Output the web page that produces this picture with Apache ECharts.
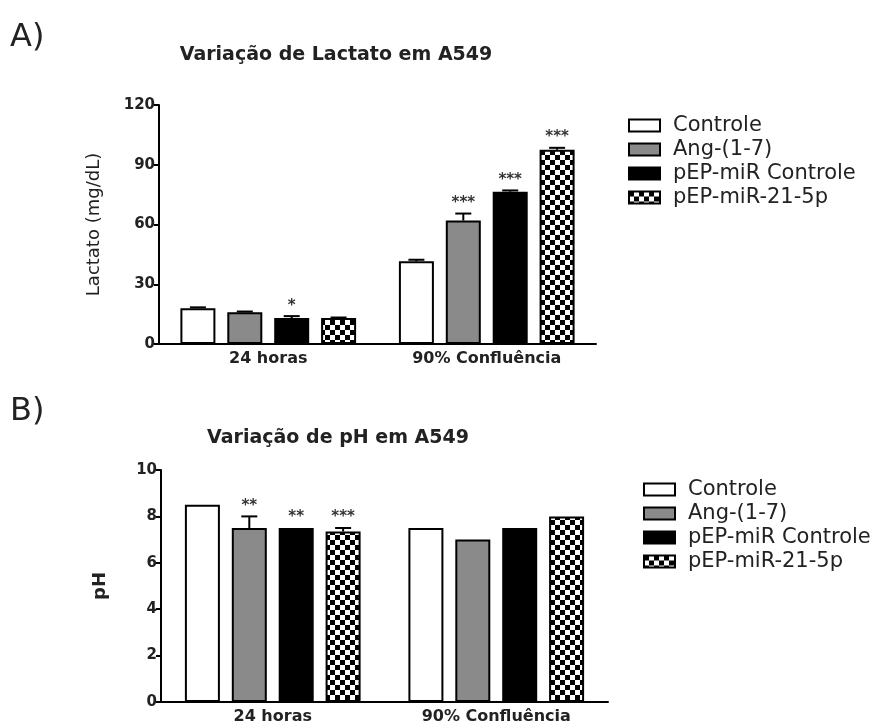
<!DOCTYPE html>
<html>
<head>
<meta charset="utf-8">
<script src="https://cdn.jsdelivr.net/npm/echarts@6/dist/echarts.min.js"></script>
<style>html,body{margin:0;padding:0;background:#fff;}#chart{width:887px;height:727px;}</style>
</head>
<body>
<div id="chart"></div>
<script>
// ---- data ----
const categories = ['24 horas', '90% Confluência'];
const seriesNames = ['Controle', 'Ang-(1-7)', 'pEP-miR Controle', 'pEP-miR-21-5p'];

// A) Lactato (mg/dL)
const lacControle = [18, 41.5];
const lacAng = [16, 62];
const lacPepCtrl = [13, 76.5];
const lacPep21 = [13, 97.5];
const lacControleErr = [0.4, 0.8];
const lacAngErr = [0.3, 3.5];
const lacPepCtrlErr = [1, 0.6];
const lacPep21Err = [0.3, 1];
const lacControleStars = ['', ''];
const lacAngStars = ['', '***'];
const lacPepCtrlStars = ['*', '***'];
const lacPep21Stars = ['', '***'];
const lacTicks = [0, 30, 60, 90, 120];

// B) pH
const phControle = [8.5, 7.5];
const phAng = [7.5, 7.0];
const phPepCtrl = [7.5, 7.5];
const phPep21 = [7.35, 8.0];
const phControleErr = [0, 0];
const phAngErr = [0.5, 0];
const phPepCtrlErr = [0, 0];
const phPep21Err = [0.15, 0];
const phControleStars = ['', ''];
const phAngStars = ['**', ''];
const phPepCtrlStars = ['**', ''];
const phPep21Stars = ['***', ''];
const phTicks = [0, 2, 4, 6, 8, 10];

// ---- styles ----
const FONT = 'DejaVu Sans, Arial, sans-serif';
function makeChecker() {
  const c = document.createElement('canvas');
  c.width = 10; c.height = 10;
  const g = c.getContext('2d');
  g.fillStyle = '#fff'; g.fillRect(0, 0, 10, 10);
  g.fillStyle = '#000'; g.fillRect(0, 0, 5, 5); g.fillRect(5, 5, 5, 5);
  return c;
}
const checker = { image: makeChecker(), repeat: 'repeat' };
const fills = ['#ffffff', '#8a8a8a', '#000000', checker];
const BAR_W = 35, BAR_GAP = 0.34;
const STEP = BAR_W * (1 + BAR_GAP);

function barSeries(name, data, i, gi) {
  return {
    type: 'bar', name: name, data: data, xAxisIndex: gi, yAxisIndex: gi,
    barWidth: BAR_W, barGap: (BAR_GAP * 100) + '%',
    itemStyle: { color: fills[i], borderColor: '#000', borderWidth: 2 },
    emphasis: { disabled: true }, z: 2
  };
}
function errSeries(vals, errs, stars, i, gi) {
  return {
    type: 'custom', name: 'err' + gi + '_' + i, xAxisIndex: gi, yAxisIndex: gi, z: 5,
    silent: true,
    data: vals.map((v, k) => [k, v, errs[k]]),
    renderItem: function (params, api) {
      const ci = api.value(0), v = api.value(1), e = api.value(2);
      const p0 = api.coord([ci, v]);
      const p1 = api.coord([ci, v + e]);
      const x = p0[0] + (i - 1.5) * STEP;
      const children = [];
      if (e > 0) {
        children.push({ type: 'line', shape: { x1: x, y1: p0[1], x2: x, y2: p1[1] }, style: { stroke: '#000', lineWidth: 2 } });
        children.push({ type: 'line', shape: { x1: x - 8, y1: p1[1], x2: x + 8, y2: p1[1] }, style: { stroke: '#000', lineWidth: 2 } });
      }
      const s = stars[params.dataIndex];
      if (s) {
        children.push({ type: 'text', style: { text: s, x: x, y: p1[1] - 3, textAlign: 'center', textVerticalAlign: 'bottom', font: 'bold 15px ' + FONT, fill: '#333' } });
      }
      return { type: 'group', children: children };
    }
  };
}

const lacVals = [lacControle, lacAng, lacPepCtrl, lacPep21];
const lacErrs = [lacControleErr, lacAngErr, lacPepCtrlErr, lacPep21Err];
const lacStars = [lacControleStars, lacAngStars, lacPepCtrlStars, lacPep21Stars];
const phVals = [phControle, phAng, phPepCtrl, phPep21];
const phErrs = [phControleErr, phAngErr, phPepCtrlErr, phPep21Err];
const phStars = [phControleStars, phAngStars, phPepCtrlStars, phPep21Stars];

const series = [];
seriesNames.forEach((n, i) => series.push(barSeries(n, lacVals[i], i, 0)));
seriesNames.forEach((n, i) => series.push(barSeries(n, phVals[i], i, 1)));
seriesNames.forEach((n, i) => series.push(errSeries(lacVals[i], lacErrs[i], lacStars[i], i, 0)));
seriesNames.forEach((n, i) => series.push(errSeries(phVals[i], phErrs[i], phStars[i], i, 1)));

function xAxis(gi) {
  return {
    type: 'category', gridIndex: gi, data: categories,
    axisLine: { lineStyle: { color: '#000', width: 2 } },
    axisTick: { alignWithLabel: true, length: 5, lineStyle: { color: '#000', width: 2 } },
    axisLabel: { color: '#222', fontFamily: FONT, fontWeight: 'bold', fontSize: 16, margin: 7 }
  };
}
function yAxis(gi, ticks, name, nameGap, nameBold) {
  return {
    type: 'value', gridIndex: gi, min: ticks[0], max: ticks[ticks.length - 1],
    interval: ticks[1] - ticks[0],
    name: name, nameLocation: 'middle', nameGap: nameGap,
    nameTextStyle: { color: '#222', fontFamily: FONT, fontSize: 18, fontWeight: nameBold ? 'bold' : 'normal' },
    axisLine: { show: true, lineStyle: { color: '#000', width: 2 } },
    axisTick: { show: true, length: 5, lineStyle: { color: '#000', width: 2 } },
    splitLine: { show: false },
    axisLabel: { color: '#222', fontFamily: FONT, fontWeight: 'bold', fontSize: 15, margin: 4,
      formatter: v => ticks.indexOf(v) >= 0 ? String(v) : '' }
  };
}
function legend(left, top) {
  return {
    data: seriesNames, orient: 'vertical', left: left, top: top,
    itemWidth: 31, itemHeight: 12, itemGap: 3, icon: 'rect', selectedMode: false,
    textStyle: { color: '#222', fontFamily: FONT, fontSize: 21, lineHeight: 21, padding: [0, 0, 0, 8] }
  };
}

const option = {
  animation: false,
  backgroundColor: '#fff',
  grid: [
    { left: 159, top: 105, width: 437, height: 239 },
    { left: 161, top: 470, width: 447, height: 232 }
  ],
  xAxis: [xAxis(0), xAxis(1)],
  yAxis: [yAxis(0, lacTicks, 'Lactato (mg/dL)', 56, false), yAxis(1, phTicks, 'pH', 52, true)],
  legend: [legend(623, 110), legend(638, 474)],
  graphic: [
    { type: 'text', left: 10, top: 22, style: { text: 'A)', font: '32px ' + FONT, fill: '#222' } },
    { type: 'text', left: 10, top: 396, style: { text: 'B)', font: '32px ' + FONT, fill: '#222' } },
    { type: 'text', x: 336, y: 55, style: { text: 'Variação de Lactato em A549', textAlign: 'center', textVerticalAlign: 'middle', font: 'bold 19px ' + FONT, fill: '#222' } },
    { type: 'text', x: 338, y: 438, style: { text: 'Variação de pH em A549', textAlign: 'center', textVerticalAlign: 'middle', font: 'bold 19px ' + FONT, fill: '#222' } }
  ],
  series: series
};
const chart = echarts.init(document.getElementById('chart'), null, { renderer: 'canvas' });
chart.setOption(option);
</script>
</body>
</html>
